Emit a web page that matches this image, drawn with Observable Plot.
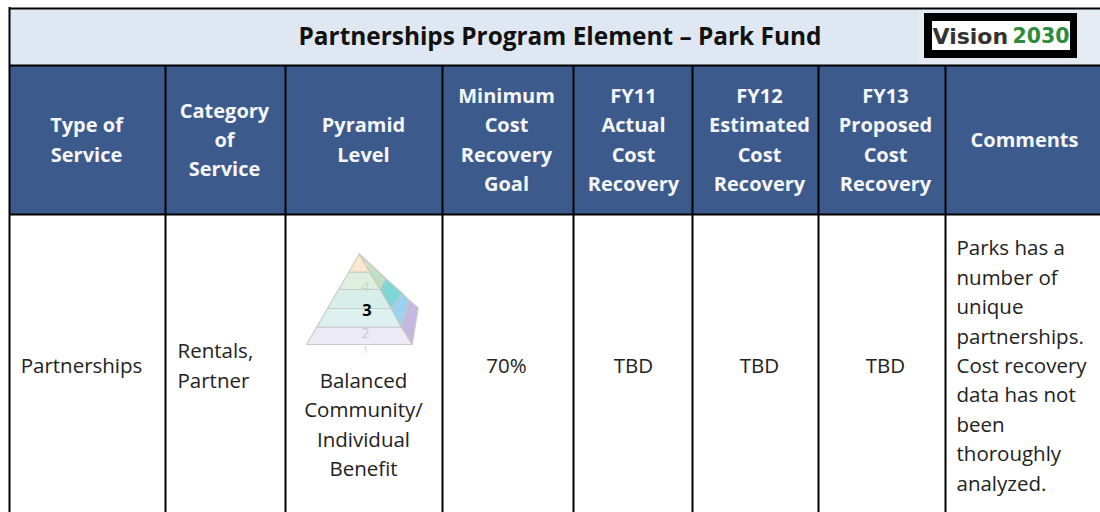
<!DOCTYPE html>
<html><head><meta charset="utf-8">
<script src="https://cdn.jsdelivr.net/npm/d3@7"></script>
<script src="https://cdn.jsdelivr.net/npm/@observablehq/plot@0.6"></script>
<style>html,body{margin:0;padding:0;background:#fff}svg{display:block}</style>
</head><body><div id="chart"></div>
<script>
const FONT = '"Open Sans", sans-serif';
const columnEdges = [9, 165, 285, 442, 573, 692, 818, 945];
const tableRight = 1100;
const rowEdges = [8, 65, 214, 512];
const titleText = "Partnerships Program Element – Park Fund";
const headers = [
  ["Type of","Service"],
  ["Category","of","Service"],
  ["Pyramid","Level"],
  ["Minimum","Cost","Recovery","Goal"],
  ["FY11","Actual","Cost","Recovery"],
  ["FY12","Estimated","Cost","Recovery"],
  ["FY13","Proposed","Cost","Recovery"],
  ["Comments"]
];
const headerX = [86, 224, 363, 506, 633, 759, 885, 1024];
const headerY = [140, 140, 140, 140, 140, 140, 140, 140];
const cellsMiddle = [
  ["Partnerships"],
  ["Balanced","Community/","Individual","Benefit"],
  ["70%"],
  ["TBD"],
  ["TBD"],
  ["TBD"]
];
const cellMiddleX = [81, 363, 506, 633, 759, 885];
const cellMiddleY = [366, 425, 366, 366, 366, 366];
const cellsStart = [
  ["Rentals,","Partner"],
  ["Parks has a","number of","unique","partnerships.","Cost recovery","data has not","been","thoroughly","analyzed."]
];
const cellStartX = [177, 956];
const cellStartY = [366, 366];
const lineStep = 29.4;

const facets = [
  ["#fbe9cf", [[358.7,253.3],[348.3,271.7],[369.3,271.7]]],
  ["#deefdf", [[348.3,271.7],[338,289],[379.7,289],[369.3,271.7]]],
  ["#d6f0e9", [[338,289],[327,308],[390.7,308],[379.7,289]]],
  ["#dcf1f0", [[327,308],[316,326.7],[401,326.7],[390.7,308]]],
  ["#ecebf5", [[316,326.7],[306,344],[411.7,344],[401,326.7]]],
  ["#bfe0c2", [[358.7,253.3],[385.3,278],[379.7,289],[369.3,271.7]]],
  ["#7fd6d6", [[385.3,278],[402,293],[390.7,308],[379.7,289]]],
  ["#9ad3f0", [[402,293],[408.3,299.5],[401,326.7],[390.7,308]]],
  ["#c4b8de", [[408.3,299.5],[417.7,307.3],[411.7,344],[401,326.7]]]
];
const pyramidRows = facets.flatMap(([color, pts], i) => pts.concat([pts[0]]).map(([x,y]) => ({x,y,i,color})));
const pyramidDigits = [["5",367,267,"#e8dcc8",15],["4",365,287,"#c8d8cc",15],["2",365,333,"#c8c8d4",15],["1",365,350,"#c8c8d0",9]];

const lines = (arr, xs, ys, step) => arr.flatMap((ls,i) => ls.map((t,j) => ({
  t, x: xs[i], y: ys[i] + (j-(ls.length-1)/2)*step})));
const headerRows = lines(headers, headerX, headerY, 29.2);
const cellMiddleRows = lines(cellsMiddle, cellMiddleX, cellMiddleY, lineStep);
const cellStartRows = lines(cellsStart, cellStartX, cellStartY, lineStep);

const plot = Plot.plot({
  width: 1100, height: 512, margin: 0,
  x: {domain:[0,1100], range:[0,1100], axis:null},
  y: {domain:[0,512], range:[0,512], axis:null},
  marks: [
    Plot.rect([{}], {x1:columnEdges[0], x2:tableRight, y1:rowEdges[0], y2:rowEdges[1], fill:"#dfe8f2"}),
    Plot.rect([{}], {x1:columnEdges[0], x2:tableRight, y1:rowEdges[1], y2:rowEdges[2], fill:"#3d5a8c"}),
    Plot.rect([{}], {x1:918, x2:tableRight, y1:8, y2:64, fill:"#e4ebf3"}),
    Plot.rect([{}], {x1:924, x2:1077, y1:13, y2:58, fill:"#000"}),
    Plot.rect([{}], {x1:932, x2:1070, y1:21, y2:50, fill:"#fff"}),
    Plot.text(["Vision"], {x:932, y:36, text:d=>d, textAnchor:"start", fontFamily:"DejaVu Sans", fontWeight:"bold", fontSize:22, fill:"#333"}),
    Plot.text(["2030"], {x:1012, y:36, text:d=>d, textAnchor:"start", fontFamily:"DejaVu Sans", fontWeight:"bold", fontSize:20.5, fill:"#2e8b3e"}),
    Plot.ruleX(columnEdges.slice(0,1), {x:d=>d, y1:rowEdges[0]-1, y2:rowEdges[3], stroke:"#000", strokeWidth:2}),
    Plot.ruleX(columnEdges.slice(1), {x:d=>d, y1:rowEdges[1], y2:rowEdges[3], stroke:"#000", strokeWidth:2}),
    Plot.ruleY(rowEdges.slice(0,3), {y:d=>d, x1:columnEdges[0], x2:tableRight, stroke:"#000", strokeWidth:2}),
    Plot.text([titleText], {x:559.5, y:37, text:d=>d, fontFamily:FONT, fontWeight:"bold", fontSize:24.4, fill:"#111"}),
    Plot.text(headerRows, {x:"x", y:"y", text:"t", fontFamily:FONT, fontWeight:"bold", fontSize:20, fill:"#f4f6fa"}),
    Plot.text(cellMiddleRows, {x:"x", y:"y", text:"t", fontFamily:FONT, fontSize:20.5, fill:"#222"}),
    Plot.text(cellStartRows, {x:"x", y:"y", text:"t", textAnchor:"start", fontFamily:FONT, fontSize:20.5, fill:"#222"}),
    Plot.line(pyramidRows, {x:"x", y:"y", z:"i", fill:"color", stroke:"#c9c9c5", strokeWidth:1.1, curve:"linear"}),
    Plot.text(pyramidDigits, {x:d=>d[1], y:d=>d[2], text:d=>d[0], fill:d=>d[3], fontSize:d=>d[4], fontFamily:FONT}),
    Plot.text(["3"], {x:366.5, y:310.5, text:d=>d, fontFamily:FONT, fontWeight:"bold", fontSize:16.5, fill:"#000"})
  ]
});
document.getElementById("chart").append(plot);
</script></body></html>
